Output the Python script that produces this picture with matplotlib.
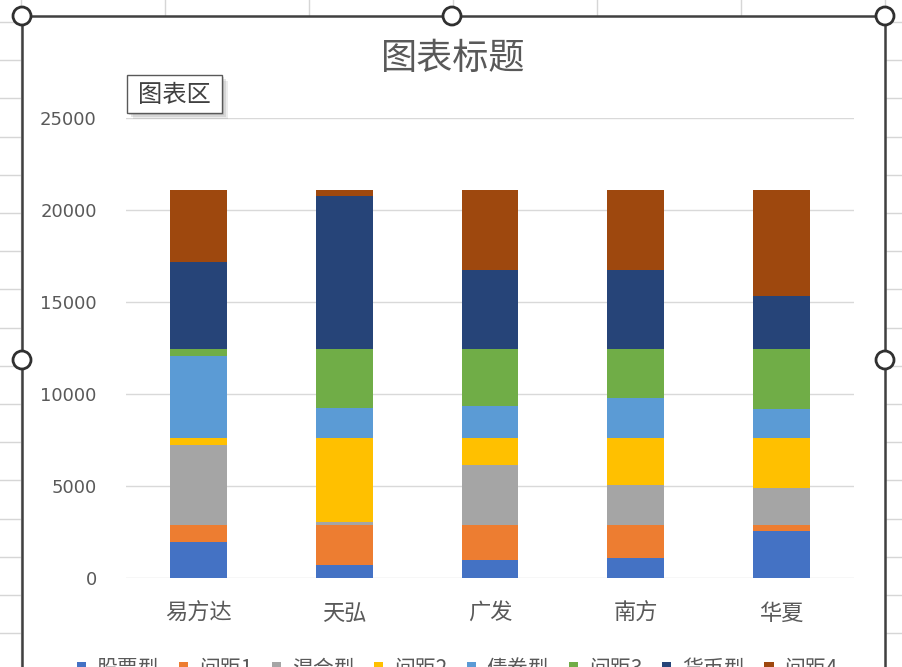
import numpy as np
import matplotlib
matplotlib.use('Agg')
import matplotlib.pyplot as plt
from matplotlib.patches import Rectangle, Circle

plt.rcParams['font.family'] = ['Noto Sans CJK SC', 'DejaVu Sans']

categories = ['易方达', '天弘', '广发', '南方', '华夏']
series_names = ['股票型', '间距1', '混合型', '间距2', '债券型', '间距3', '货币型', '间距4']
stock = [2000, 700, 1000, 1100, 2550]
gap1 = [900, 2200, 1900, 1800, 350]
mixed = [4350, 150, 3250, 2150, 2000]
gap2 = [400, 4600, 1500, 2600, 2750]
bond = [4450, 1600, 1700, 2150, 1550]
gap3 = [350, 3200, 3100, 2650, 3250]
money = [4750, 8300, 4300, 4300, 2900]
gap4 = [3900, 350, 4350, 4350, 5750]
y_ticks = [0, 5000, 10000, 15000, 20000, 25000]

COLORS = ['#4472C4', '#ED7D31', '#A5A5A5', '#FFC000',
          '#5B9BD5', '#70AD47', '#264478', '#9E480E']
TXT = '#595959'
W, H = 902, 667

fig = plt.figure(figsize=(W / 100, H / 100), dpi=100)
fig.patch.set_facecolor('white')

# spreadsheet behind the chart (pixel coordinates)
bg = fig.add_axes([0, 0, 1, 1], zorder=-1)
bg.set_xlim(0, W)
bg.set_ylim(H, 0)
bg.axis('off')
for x in np.arange(21, W, 144):
    bg.plot([x, x], [0, H], color='#d6d6d6', lw=1, zorder=1)
for y in np.arange(21.9, H, 38.2):
    bg.plot([0, W], [y, y], color='#d6d6d6', lw=1, zorder=1)
bg.add_patch(Rectangle((22, 16), 863, H, facecolor='white', edgecolor='none', zorder=3))

# chart
ax = fig.add_axes([126 / W, 1 - 578.3 / H, 728 / W, 460 / H])
ax.set_facecolor('none')
x = np.arange(len(categories))
all_series = [stock, gap1, mixed, gap2, bond, gap3, money, gap4]
bottom = np.zeros(len(categories))
for name, vals, col in zip(series_names, all_series, COLORS):
    ax.bar(x, vals, bottom=bottom, width=0.39, color=col, label=name, zorder=2)
    bottom += np.array(vals)

ax.set_xlim(-0.5, len(categories) - 0.5)
ax.set_ylim(0, 25000)
ax.set_yticks(y_ticks)
ax.set_yticklabels([str(v) for v in y_ticks], family='DejaVu Sans')
ax.set_xticks(x)
ax.set_xticklabels(categories)
ax.grid(axis='y', color='#d9d9d9', lw=1, zorder=0)
for s in ax.spines.values():
    s.set_visible(False)
ax.tick_params(axis='y', length=0, pad=21, labelsize=13, labelcolor=TXT)
ax.tick_params(axis='x', length=0, pad=17, labelsize=16, labelcolor=TXT)

handles, labels = ax.get_legend_handles_labels()
fig.legend(handles, labels, loc='center', bbox_to_anchor=(457 / W, 1 - 669 / H),
           ncol=8, frameon=False, fontsize=15, labelcolor=TXT,
           handlelength=0.45, handleheight=0.45, handletextpad=0.5,
           columnspacing=0.95)

# selection frame, handles, title and tooltip
ov = fig.add_axes([0, 0, 1, 1], zorder=5)
ov.set_xlim(0, W)
ov.set_ylim(H, 0)
ov.axis('off')
ov.set_facecolor('none')
ov.plot([22, 22], [16, H], color='#404040', lw=1.8)
ov.plot([885, 885], [16, H], color='#404040', lw=1.8)
ov.plot([22, 885], [16, 16], color='#404040', lw=1.8)
for cx, cy in [(22, 16), (452, 16), (885, 16), (22, 360), (885, 360)]:
    ov.add_patch(Circle((cx, cy), 9, facecolor='white', edgecolor='#303030', lw=2, zorder=6))

ov.text(453, 59, '图表标题', ha='center', va='center', fontsize=26,
        color=TXT, fontweight='light')

for off, a in [(6, 0.15), (4, 0.2), (2, 0.25)]:
    ov.add_patch(Rectangle((127 + off, 75 + off), 95, 38, facecolor='#808080',
                           edgecolor='none', alpha=a, zorder=3))
ov.add_patch(Rectangle((127, 75), 95, 38, facecolor='white', edgecolor='#595959',
                       lw=1, zorder=4))
ov.text(174.5, 94.5, '图表区', ha='center', va='center', fontsize=17.5,
        color='#404040', zorder=5)

fig.savefig('out.png', dpi=100)
